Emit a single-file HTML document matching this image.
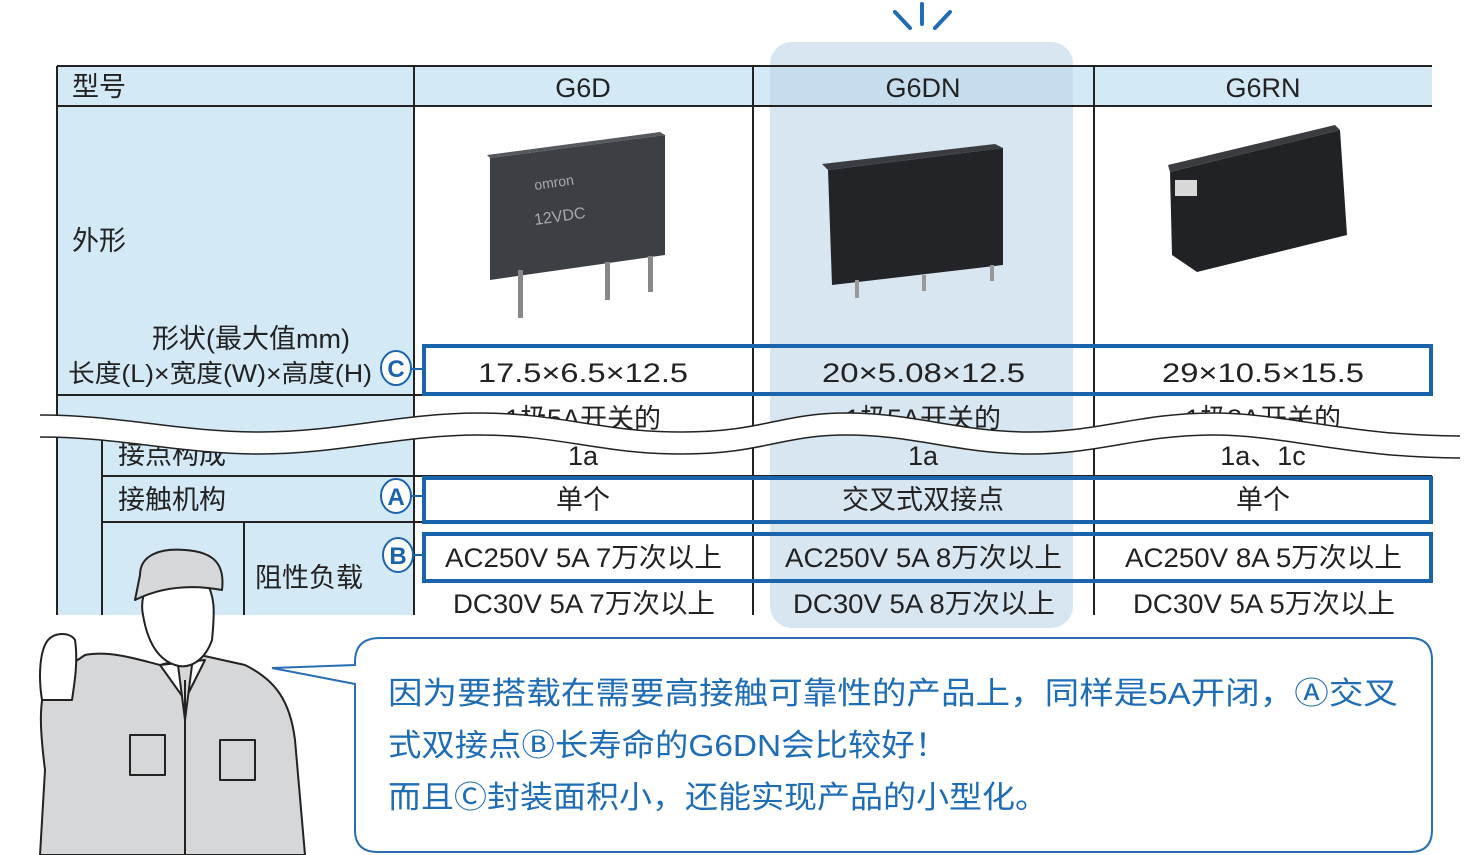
<!DOCTYPE html>
<html><head><meta charset="utf-8"><style>
html,body{margin:0;padding:0;background:#fff;}
svg{display:block;font-family:"Liberation Sans","Noto Sans CJK SC",sans-serif;}
</style></head><body>
<svg width="1470" height="855" viewBox="0 0 1470 855" xmlns="http://www.w3.org/2000/svg">
<g stroke="#1f6db5" stroke-width="4" stroke-linecap="round">
<line x1="895" y1="12" x2="910" y2="28"/><line x1="922" y1="4" x2="922" y2="24"/><line x1="950" y1="12" x2="935" y2="28"/>
</g>
<rect x="57" y="66" width="1375" height="40" fill="#d4e9f6"/>
<rect x="57" y="106" width="357" height="509" fill="#d4e9f6"/>
<rect x="770" y="42" width="303" height="586" rx="22" fill="#bcd6e8" opacity="0.6"/>
<g>
<polygon points="490,158 665,135 665,255 490,280" fill="#3c3f44"/>
<polygon points="490,158 665,135 660,132 487,155" fill="#55585d"/>
<rect x="518" y="270" width="5" height="48" fill="#888"/><rect x="605" y="262" width="5" height="38" fill="#888"/><rect x="648" y="256" width="5" height="36" fill="#888"/>
<text x="535" y="190" fill="#aaa" font-size="14" transform="rotate(-8 535 190)">omron</text>
<text x="535" y="225" fill="#aaa" font-size="16" transform="rotate(-8 535 225)">12VDC</text>
<polygon points="828,170 1003,148 1003,265 832,285" fill="#222428"/>
<polygon points="828,170 1003,148 995,144 822,164" fill="#3a3c40"/>
<rect x="855" y="280" width="4" height="18" fill="#999"/><rect x="922" y="275" width="4" height="16" fill="#999"/><rect x="990" y="265" width="4" height="16" fill="#999"/>
<polygon points="1170,172 1340,130 1347,235 1197,272 1172,255" fill="#202226"/>
<polygon points="1170,172 1340,130 1335,125 1168,165" fill="#3a3c40"/>
<rect x="1175" y="180" width="22" height="16" fill="#d8d8d8"/>
</g>
<g stroke="#222" stroke-width="2" fill="none">
<line x1="57" y1="66" x2="1432" y2="66"/>
<line x1="57" y1="106" x2="1432" y2="106"/>
<line x1="57" y1="395" x2="1432" y2="395"/>
<line x1="57" y1="66" x2="57" y2="615"/>
<line x1="414" y1="66" x2="414" y2="615"/>
<line x1="753" y1="66" x2="753" y2="615"/>
<line x1="1094" y1="66" x2="1094" y2="615"/>
<line x1="102" y1="430" x2="102" y2="615"/>
<line x1="102" y1="476" x2="1432" y2="476"/>
<line x1="102" y1="522" x2="1432" y2="522"/>
<line x1="244" y1="522" x2="244" y2="615"/>
</g>
<g font-size="27" fill="#222">
<text x="72" y="96">型号</text>
<text x="583" y="97" text-anchor="middle">G6D</text>
<text x="923" y="97" text-anchor="middle">G6DN</text>
<text x="1263" y="97" text-anchor="middle">G6RN</text>
<text x="72" y="250">外形</text>
<text x="152" y="348">形状(最大值mm)</text>
<text x="68" y="382" font-size="25" textLength="304" lengthAdjust="spacingAndGlyphs">长度(L)×宽度(W)×高度(H)</text>
<text x="478" y="382" textLength="210" lengthAdjust="spacingAndGlyphs">17.5×6.5×12.5</text>
<text x="822" y="382" textLength="203" lengthAdjust="spacingAndGlyphs">20×5.08×12.5</text>
<text x="1162" y="382" textLength="202" lengthAdjust="spacingAndGlyphs">29×10.5×15.5</text>
<text x="583" y="428" text-anchor="middle">1极5A开关的</text>
<text x="923" y="428" text-anchor="middle">1极5A开关的</text>
<text x="1263" y="428" text-anchor="middle">1极8A开关的</text>
<text x="118" y="464">接点构成</text>
<text x="583" y="465" text-anchor="middle">1a</text>
<text x="923" y="465" text-anchor="middle">1a</text>
<text x="1263" y="465" text-anchor="middle">1a、1c</text>
<text x="118" y="509">接触机构</text>
<text x="583" y="509" text-anchor="middle">单个</text>
<text x="923" y="509" text-anchor="middle">交叉式双接点</text>
<text x="1263" y="509" text-anchor="middle">单个</text>
<text x="255" y="587">阻性负载</text>
<text x="445" y="567" textLength="277" lengthAdjust="spacingAndGlyphs">AC250V 5A 7万次以上</text>
<text x="785" y="567" textLength="277" lengthAdjust="spacingAndGlyphs">AC250V 5A 8万次以上</text>
<text x="1125" y="567" textLength="277" lengthAdjust="spacingAndGlyphs">AC250V 8A 5万次以上</text>
<text x="453" y="613" textLength="262" lengthAdjust="spacingAndGlyphs">DC30V 5A 7万次以上</text>
<text x="793" y="613" textLength="262" lengthAdjust="spacingAndGlyphs">DC30V 5A 8万次以上</text>
<text x="1133" y="613" textLength="262" lengthAdjust="spacingAndGlyphs">DC30V 5A 5万次以上</text>
</g>
<!-- wave break -->
<path d="M40,415 C120,415 180,432 260,432 S400,413 480,413 S600,432 682,432 S780,413 847,413 S960,432 1030,432 S1140,413 1213,413 S1350,436 1460,436 L1460,458 C1350,458 1290,435 1213,435 S1110,454 1030,454 S920,435 847,435 S760,454 682,454 S560,435 480,435 S340,454 260,454 S120,437 40,437 Z" fill="#fff"/>
<g fill="none" stroke="#222" stroke-width="1.5">
<path d="M40,415 C120,415 180,432 260,432 S400,413 480,413 S600,432 682,432 S780,413 847,413 S960,432 1030,432 S1140,413 1213,413 S1350,436 1460,436"/>
<path d="M40,437 C120,437 180,454 260,454 S400,435 480,435 S600,454 682,454 S780,435 847,435 S960,454 1030,454 S1140,435 1213,435 S1350,458 1460,458"/>
</g>
<g fill="none" stroke="#1a64ad" stroke-width="4">
<rect x="424" y="346" width="1007" height="48"/>
<rect x="424" y="478" width="1007" height="44"/>
<rect x="424" y="534" width="1007" height="47"/>
</g>
<g stroke="#1a64ad" stroke-width="2" fill="#fff">
<line x1="410" y1="369" x2="424" y2="369"/><line x1="410" y1="496" x2="424" y2="496"/><line x1="410" y1="555" x2="424" y2="555"/>
<ellipse cx="396" cy="368" rx="15" ry="17"/><ellipse cx="396" cy="496" rx="15" ry="17"/><ellipse cx="398" cy="555" rx="15" ry="17"/>
</g>
<g fill="#1a64ad" font-size="24" font-weight="bold" text-anchor="middle">
<text x="396" y="377">C</text><text x="396" y="505">A</text><text x="398" y="564">B</text>
</g>
<rect x="0" y="615" width="770" height="240" fill="#fff"/>
<rect x="1073" y="615" width="397" height="240" fill="#fff"/>
<rect x="770" y="630" width="303" height="225" fill="#fff"/>
<g stroke="#222" stroke-width="2" stroke-linejoin="round">
<path d="M40,855 L45,770 C40,730 38,700 48,680 L85,655 C110,650 140,660 160,665 L200,655 L245,665 C275,680 290,700 295,740 L305,855 Z" fill="#d5d7d9"/>
<path d="M42,700 C38,675 40,650 48,640 C55,632 70,632 75,640 C78,660 75,680 72,700 Z" fill="#fff"/>
<path d="M160,665 L185,700 L205,660 Z" fill="#fff"/>
<path d="M178,665 L185,720 L192,665 Z" fill="#d5d7d9"/>
<rect x="130" y="735" width="35" height="40" fill="#d5d7d9"/>
<rect x="220" y="740" width="35" height="40" fill="#d5d7d9"/>
<path d="M143,615 C140,600 145,590 150,580 L205,580 C215,595 215,610 212,640 C205,660 190,670 175,665 C160,660 148,645 143,615 Z" fill="#fff"/>
<path d="M140,575 C140,555 160,548 185,550 C215,552 225,565 222,590 C195,585 165,585 135,600 Z" fill="#d5d7d9"/>
<line x1="185" y1="680" x2="185" y2="855"/>
</g>
<path d="M380,638 L1410,638 Q1432,638 1432,660 L1432,830 Q1432,852 1410,852 L378,852 Q355,852 355,830 L355,684 L272,668 L355,665 L355,662 Q355,638 380,638 Z" fill="#fff" stroke="#2a6fb4" stroke-width="2"/>
<g fill="#1f6db5" font-size="31">
<text x="388" y="704" textLength="1010" lengthAdjust="spacingAndGlyphs">因为要搭载在需要高接触可靠性的产品上，同样是5A开闭，Ⓐ交叉</text>
<text x="388" y="756" textLength="560" lengthAdjust="spacingAndGlyphs">式双接点Ⓑ长寿命的G6DN会比较好！</text>
<text x="388" y="808" textLength="660" lengthAdjust="spacingAndGlyphs">而且Ⓒ封装面积小，还能实现产品的小型化。</text>
</g>
</svg>
</body></html>
